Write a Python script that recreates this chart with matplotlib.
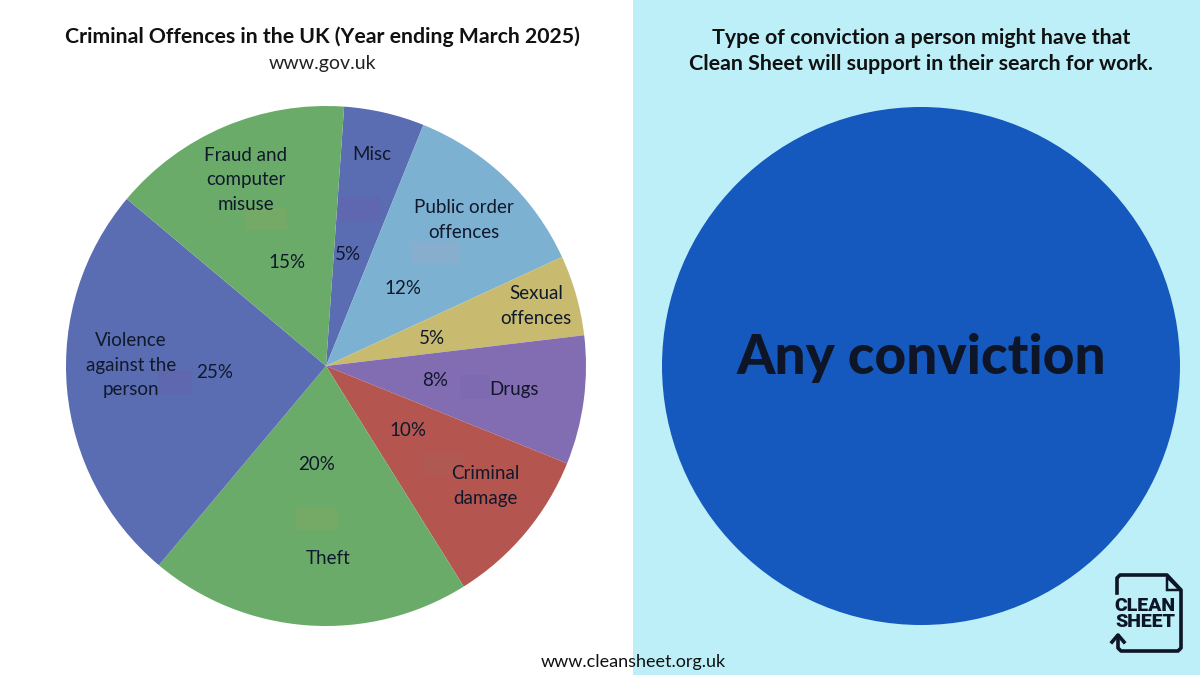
# Criminal offences pie + Clean Sheet panel
import matplotlib.pyplot as plt
from matplotlib.patches import Rectangle, Circle, Polygon

plt.rcParams['font.family'] = ['Lato', 'DejaVu Sans']

categorias = ['Misc', 'Public order\noffences', 'Sexual\noffences', 'Drugs', 'Criminal\ndamage',
              'Theft', 'Violence\nagainst the\nperson', 'Fraud and\ncomputer\nmisuse']
valores = [5, 12, 5, 8, 10, 20, 25, 15]
colores = ['#5A6DB2', '#7CB1D1', '#C8BB70', '#826DB3', '#B55550', '#6BAB69', '#5A6DB2', '#6BAB69']

# pixel positions of the labels on the slices
pos_nombre = [(372, 155), (464, 220), (536, 306), (514, 390), (485, 486),
              (328, 559), (131, 365), (246, 180)]
pos_pct = [(348, 255), (403, 288), (432, 338), (435, 381), (408, 431),
           (317, 465), (215, 373), (287, 263)]

fig = plt.figure(figsize=(12, 6.75), dpi=100, facecolor='white')

# fondo y dibujo en coordenadas de pixel
bg = fig.add_axes([0, 0, 1, 1])
bg.set_xlim(0, 1200)
bg.set_ylim(675, 0)
bg.axis('off')
bg.add_patch(Rectangle((632.5, 0), 568, 675, color='#BDEFF8', lw=0))
bg.add_patch(Circle((921, 366), 259, color='#1558BE', lw=0))

# tarta: centro (326, 366), radio 260
ax = fig.add_axes([66 / 1200, (675 - 626) / 675, 520 / 1200, 520 / 675])
ax.pie(valores, colors=colores, startangle=86.0, counterclock=False, radius=1,
       wedgeprops={'linewidth': 0})
ax.set_xlim(-1, 1)
ax.set_ylim(-1, 1)

top = fig.add_axes([0, 0, 1, 1])
top.set_xlim(0, 1200)
top.set_ylim(675, 0)
top.axis('off')

# manchas de la imagen original
manchas = [(246, 208, 41, 22, '#7DA964'), (338, 197, 42, 24, '#6464B0'), (411, 242, 48, 22, '#8FACCB'),
           (460, 375, 30, 24, '#7A68AE'), (424, 453, 40, 22, '#AE5C55'), (296, 507, 41, 23, '#7CA964'),
           (158, 370, 34, 24, '#6466AE')]
for x, y, w, h, c in manchas:
    top.add_patch(Rectangle((x, y), w, h, color=c, lw=0, alpha=0.6))

for t, (x, y) in zip(categorias, pos_nombre):
    top.text(x, y, t, ha='center', va='center', fontsize=13.5, color='#10182B', linespacing=1.56)
for v, (x, y) in zip(valores, pos_pct):
    top.text(x, y, f'{v}%', ha='center', va='center', fontsize=13.5, color='#10182B')

top.text(322, 37, 'Criminal Offences in the UK (Year ending March 2025)', ha='center', va='center',
         fontsize=15.3, fontweight='bold', color='#111111')
top.text(322, 64, 'www.gov.uk', ha='center', va='center', fontsize=14, color='#222222')
top.text(921, 51, 'Type of conviction a person might have that\nClean Sheet will support in their search for work.',
         ha='center', va='center', fontsize=15.4, fontweight='bold', color='#111111', linespacing=1.42)
top.text(921, 358, 'Any conviction', ha='center', va='center', fontsize=39.5, fontweight='black', color='#0E1526')
top.text(633, 662, 'www.cleansheet.org.uk', ha='center', va='center', fontsize=13, color='#111111')

# logo
doc = [(1117, 593), (1117, 578), (1120, 575), (1167, 575), (1181, 590), (1181, 648), (1178, 651),
       (1121, 651), (1118, 648), (1118, 636)]
top.plot(*zip(*doc), color='#0E1526', lw=2.6, solid_joinstyle='round')
top.plot([1112, 1118, 1124], [642, 635, 642], color='#0E1526', lw=2.6)
top.add_patch(Polygon([(1167, 577), (1180, 590), (1167, 590)], closed=True, fc='#BDEFF8', ec='#0E1526', lw=1.8))
top.text(1145, 614, 'CLEAN\nSHEET', ha='center', va='center', fontsize=14, fontweight='black',
         family='Roboto', color='#0E1526', linespacing=0.9)

fig.savefig('out.png', dpi=100)
